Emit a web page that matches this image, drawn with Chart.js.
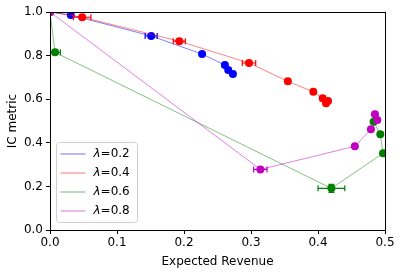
<!DOCTYPE html>
<html lang="en">
<head>
  <meta charset="UTF-8" />
  <title>IC metric vs Expected Revenue</title>
  <script src="https://cdn.jsdelivr.net/npm/chart.js"></script>
  <style>
    html, body { margin: 0; padding: 0; background: #fff; }
    #wrap { width: 401px; height: 273px; }
  </style>
</head>
<body>
  <div id="wrap"><canvas id="chart" width="401" height="273"></canvas></div>

  <script>
    // valores
    const blueX = [0, 0.031, 0.151, 0.227, 0.261, 0.266, 0.273];
    const blueY = [1.0, 0.986, 0.890, 0.807, 0.757, 0.734, 0.716];
    const blueErr = [0, 0.003, 0.009, 0.002, 0.002, 0.002, 0.002];

    const redX = [0, 0.048, 0.193, 0.297, 0.355, 0.393, 0.407, 0.415, 0.412];
    const redY = [1.0, 0.976, 0.866, 0.766, 0.682, 0.634, 0.604, 0.592, 0.581];
    const redErr = [0, 0.013, 0.009, 0.010, 0.003, 0.003, 0.003, 0.003, 0.003];

    const greenX = [0, 0.0075, 0.420, 0.497, 0.493, 0.483];
    const greenY = [1.0, 0.815, 0.191, 0.352, 0.439, 0.497];
    const greenErr = [0, 0.008, 0.020, 0.002, 0.002, 0.002];
    const greenYErr = [0, 0, 0.018, 0, 0, 0];

    const magX = [0, 0.314, 0.455, 0.479, 0.4885, 0.485];
    const magY = [1.0, 0.278, 0.384, 0.462, 0.505, 0.531];
    const magErr = [0, 0.010, 0.002, 0.002, 0.002, 0.002];

    const labels = ['0.2', '0.4', '0.6', '0.8'];
    const markerColors = ['#0000ff', '#ff0000', '#008000', '#bf00bf'];
    const lineColors = ['rgba(0,0,255,0.55)', 'rgba(255,0,0,0.55)', 'rgba(0,128,0,0.55)', 'rgba(191,0,191,0.55)'];

    const series = [
      { x: blueX, y: blueY, xe: blueErr, ye: null },
      { x: redX, y: redY, xe: redErr, ye: null },
      { x: greenX, y: greenY, xe: greenErr, ye: greenYErr },
      { x: magX, y: magY, xe: magErr, ye: null }
    ];

    const FONT = 'DejaVu Sans';

    const datasets = series.map((s, i) => ({
      label: 'λ=' + labels[i],
      data: s.x.map((v, k) => ({ x: v, y: s.y[k] })),
      showLine: true,
      borderColor: lineColors[i],
      borderWidth: 0.9,
      backgroundColor: markerColors[i],
      pointBackgroundColor: markerColors[i],
      pointBorderWidth: 0,
      pointRadius: 4,
      pointHoverRadius: 4,
      clip: 0,
      order: 4 - i
    }));

    // barras de error, marco y leyenda
    const extras = {
      id: 'extras',
      beforeDatasetDraw(chart, args) {
        const s = series[args.index];
        const xs = chart.scales.x, ys = chart.scales.y;
        const ctx = chart.ctx, a = chart.chartArea;
        ctx.save();
        ctx.beginPath();
        ctx.rect(a.left, a.top, a.right - a.left, a.bottom - a.top);
        ctx.clip();
        ctx.strokeStyle = markerColors[args.index];
        ctx.lineWidth = 1.2;
        s.x.forEach((v, k) => {
          const py = ys.getPixelForValue(s.y[k]);
          const px = xs.getPixelForValue(v);
          const e = s.xe[k];
          if (e > 0) {
            const x0 = xs.getPixelForValue(v - e), x1 = xs.getPixelForValue(v + e);
            ctx.beginPath();
            ctx.moveTo(x0, py); ctx.lineTo(x1, py);
            ctx.moveTo(x0, py - 3); ctx.lineTo(x0, py + 3);
            ctx.moveTo(x1, py - 3); ctx.lineTo(x1, py + 3);
            ctx.stroke();
          }
          if (s.ye && s.ye[k] > 0) {
            const y0 = ys.getPixelForValue(s.y[k] - s.ye[k]), y1 = ys.getPixelForValue(s.y[k] + s.ye[k]);
            ctx.beginPath();
            ctx.moveTo(px, y0); ctx.lineTo(px, y1);
            ctx.moveTo(px - 3, y0); ctx.lineTo(px + 3, y0);
            ctx.moveTo(px - 3, y1); ctx.lineTo(px + 3, y1);
            ctx.stroke();
          }
        });
        ctx.restore();
      },
      afterDraw(chart) {
        const ctx = chart.ctx, a = chart.chartArea;
        ctx.save();
        ctx.strokeStyle = '#000';
        ctx.lineWidth = 1;
        ctx.strokeRect(Math.round(a.left) + 0.5, Math.round(a.top) + 0.5,
          Math.round(a.right - a.left), Math.round(a.bottom - a.top));

        // leyenda
        const bx = a.left + 6.5, by = a.bottom - 87.5, bw = 81, bh = 80;
        ctx.fillStyle = 'rgba(255,255,255,0.8)';
        ctx.strokeStyle = '#d0d0d0';
        ctx.beginPath();
        ctx.roundRect(bx, by, bw, bh, 3);
        ctx.fill();
        ctx.stroke();
        labels.forEach((l, i) => {
          const ry = by + 11.5 + i * 19;
          ctx.strokeStyle = lineColors[i];
          ctx.lineWidth = 1;
          ctx.beginPath();
          ctx.moveTo(bx + 4, ry); ctx.lineTo(bx + 29, ry);
          ctx.stroke();
          ctx.fillStyle = '#000';
          ctx.textBaseline = 'middle';
          ctx.font = 'italic 12px ' + FONT;
          ctx.fillText('λ', bx + 37, ry);
          const w = ctx.measureText('λ').width;
          ctx.font = '12px ' + FONT;
          ctx.fillText('=' + l, bx + 37 + w, ry);
        });
        ctx.restore();
      }
    };

    new Chart(document.getElementById('chart'), {
      type: 'scatter',
      data: { datasets },
      options: {
        responsive: false,
        animation: false,
        layout: { padding: { top: 12, right: 16, left: 0, bottom: 0 }, autoPadding: false },
        plugins: { legend: { display: false }, tooltip: { enabled: false } },
        scales: {
          x: {
            type: 'linear', min: 0, max: 0.5,
            afterFit(s) { s.height = 43; },
            border: { display: false },
            grid: { drawOnChartArea: false, drawTicks: true, tickLength: 4, color: '#000' },
            ticks: { stepSize: 0.1, color: '#000', padding: 2, font: { family: FONT, size: 12 },
              callback: v => v.toFixed(1) },
            title: { display: true, text: 'Expected Revenue', color: '#000', padding: { top: 3, bottom: 4 },
              font: { family: FONT, size: 12 } }
          },
          y: {
            type: 'linear', min: 0, max: 1,
            afterFit(s) { s.width = 50; },
            border: { display: false },
            grid: { drawOnChartArea: false, drawTicks: true, tickLength: 4, color: '#000' },
            ticks: { stepSize: 0.2, color: '#000', padding: 3, font: { family: FONT, size: 12 },
              callback: v => v.toFixed(1) },
            title: { display: true, text: 'IC metric', color: '#000', padding: { top: 6, bottom: 4 },
              font: { family: FONT, size: 12 } }
          }
        }
      },
      plugins: [extras]
    });
  </script>
</body>
</html>
